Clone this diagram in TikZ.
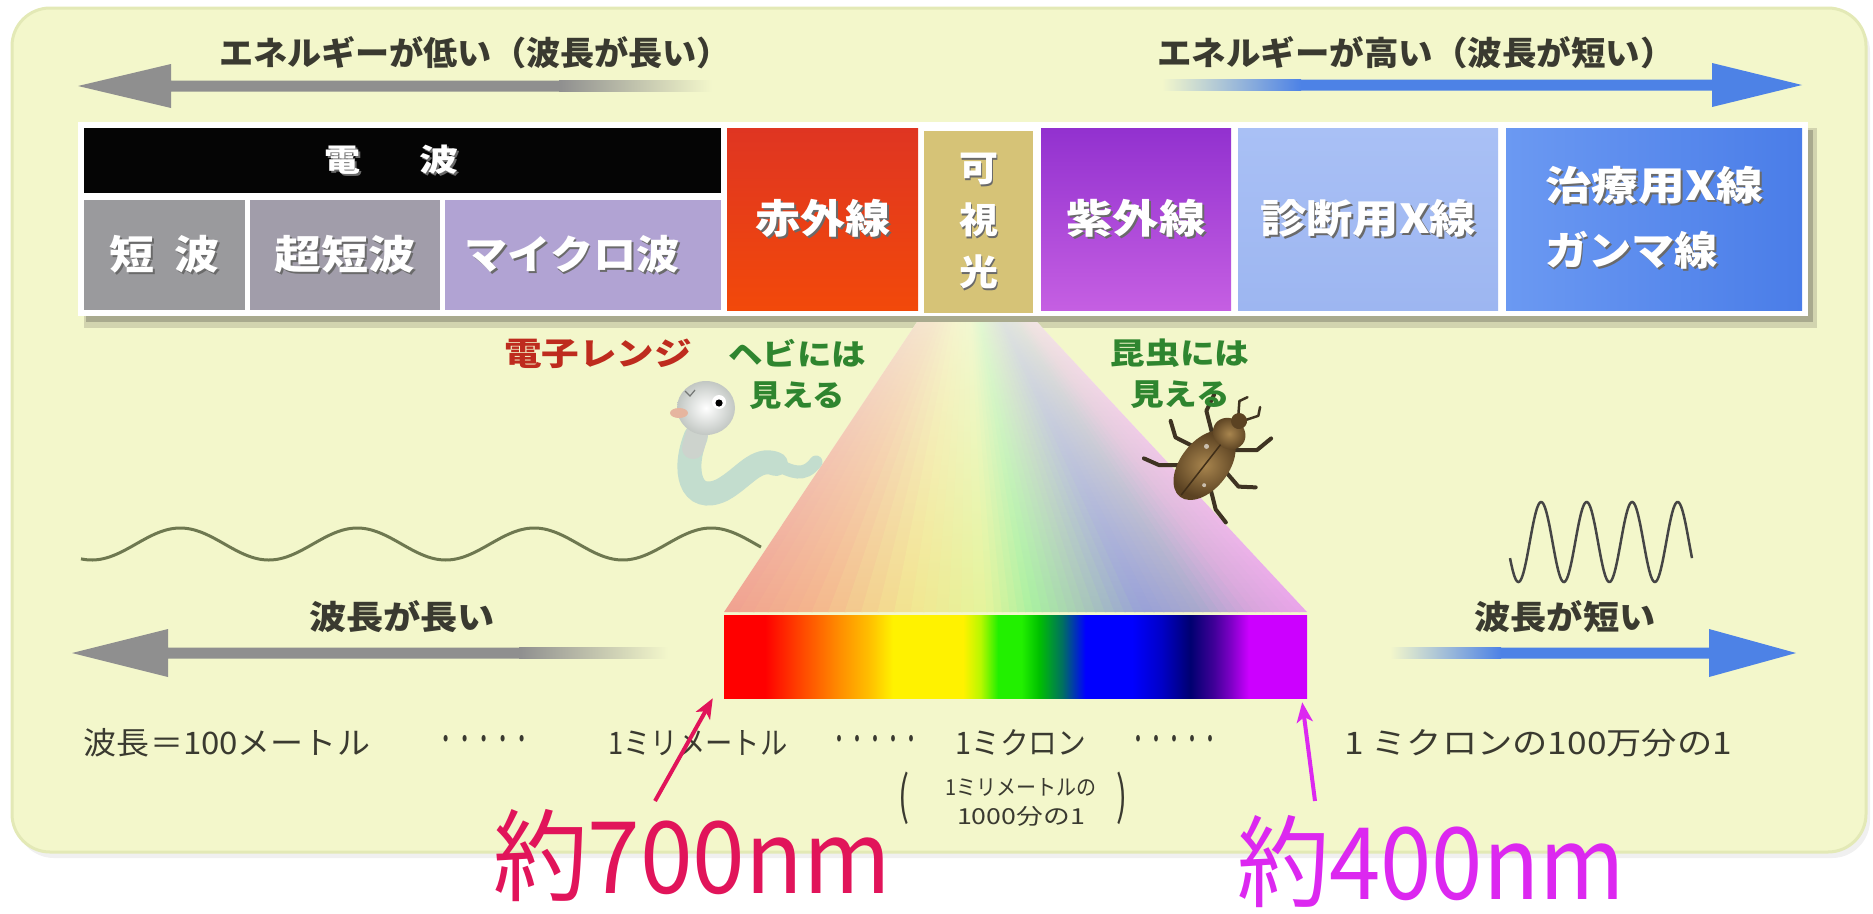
\documentclass[tikz,border=0pt]{standalone}
\usepackage{fontspec}
\usepackage{graphicx}
\usetikzlibrary{arrows.meta}
\newfontfamily\jp{Noto Sans CJK JP}
% set a text at a given width (pt), keeping its height
\newcommand\tw[2]{\resizebox{#1pt}{\height}{#2}}
% white band label with a soft grey drop shadow
\newcommand\shd[1]{\makebox[0pt][l]{\kern1.8pt\raisebox{-1.8pt}{\textcolor{labelshadow}{#1}}}#1}

\definecolor{panel}{HTML}{F3F7CB}
\definecolor{panelrim}{HTML}{E3E9B6}
\definecolor{ink}{HTML}{3A3A30}
\definecolor{labelshadow}{HTML}{6A6A6A}
\definecolor{arrowgray}{HTML}{8F8F8F}
\definecolor{arrowblue}{HTML}{4D82E6}
\definecolor{rowshadow}{HTML}{A9AA8E}
\definecolor{radiobar}{HTML}{050505}
\definecolor{swgray}{HTML}{9A9A9D}
\definecolor{vhfgray}{HTML}{A19DAA}
\definecolor{microlav}{HTML}{B1A3D3}
\definecolor{irtop}{HTML}{DF3522}
\definecolor{irbot}{HTML}{F2490A}
\definecolor{vis}{HTML}{D6C377}
\definecolor{uvtop}{HTML}{9231CF}
\definecolor{uvbot}{HTML}{C55FE2}
\definecolor{xdtop}{HTML}{A9C0F5}
\definecolor{xdbot}{HTML}{9DB6F1}
\definecolor{xtleft}{HTML}{6B99F2}
\definecolor{xtright}{HTML}{4A7DE8}
\definecolor{labred}{HTML}{BE2B1E}
\definecolor{labgreen}{HTML}{2F852F}
\definecolor{wavelong}{HTML}{6E7850}
\definecolor{waveshort}{HTML}{454545}
\definecolor{mark700}{HTML}{E1145A}
\definecolor{mark400}{HTML}{DC28F0}
\definecolor{snakebody}{HTML}{C3DDCE}
\definecolor{snakeneck}{HTML}{CDD3CD}
\definecolor{snakehead}{HTML}{C2C7C3}
\definecolor{snakemouth}{HTML}{E6B59F}
\definecolor{beetlelight}{HTML}{A8854E}
\definecolor{beetledark}{HTML}{5B4222}
\definecolor{beetleleg}{HTML}{3E3322}
% pale spectrum of the fan
\definecolor{fantop}{HTML}{F6F9E2}
\definecolor{f0}{HTML}{F0A090}
\definecolor{f1}{HTML}{F4B48C}
\definecolor{f2}{HTML}{F2E690}
\definecolor{f3}{HTML}{E4F49C}
\definecolor{f4}{HTML}{A8F0A0}
\definecolor{f5}{HTML}{A8C8B8}
\definecolor{f6}{HTML}{98A0D8}
\definecolor{f7}{HTML}{A8A8CC}
\definecolor{f8}{HTML}{D8A4DC}
\definecolor{f9}{HTML}{EAA4EA}
% spectrum bar
\definecolor{sp0}{HTML}{FF0000}
\definecolor{sp1}{HTML}{FF4400}
\definecolor{sp2}{HTML}{FF9000}
\definecolor{sp3}{HTML}{FFC000}
\definecolor{sp4}{HTML}{FFF200}
\definecolor{sp5}{HTML}{B8F800}
\definecolor{sp6}{HTML}{22F000}
\definecolor{sp7}{HTML}{00C000}
\definecolor{sp8}{HTML}{007060}
\definecolor{sp9}{HTML}{0000FF}
\definecolor{sp10}{HTML}{0000C8}
\definecolor{sp11}{HTML}{000070}
\definecolor{sp12}{HTML}{400098}
\definecolor{sp13}{HTML}{8000C8}
\definecolor{sp14}{HTML}{CC00FF}
\pgfdeclarehorizontalshading{spectrum}{100bp}{color(0bp)=(sp0); color(25bp)=(sp0);
  color(28.5bp)=(sp0); color(31.5bp)=(sp1); color(35bp)=(sp2); color(37.5bp)=(sp3);
  color(39.5bp)=(sp4); color(45.5bp)=(sp4); color(47bp)=(sp5); color(48.5bp)=(sp6);
  color(50.5bp)=(sp6); color(52bp)=(sp7); color(54bp)=(sp8); color(56bp)=(sp9);
  color(60bp)=(sp9); color(62.5bp)=(sp10); color(65bp)=(sp11); color(67bp)=(sp12);
  color(68.5bp)=(sp13); color(70bp)=(sp14); color(75bp)=(sp14); color(100bp)=(sp14)}

\begin{document}
\begin{tikzpicture}[x=1pt, y=-1pt,
  every node/.style={inner sep=0pt},
  headtext/.style={font=\jp\bfseries\fontsize{33}{36}\selectfont, text=ink},
  midlabel/.style={font=\jp\bfseries\fontsize{30}{41}\selectfont, align=center},
  scaletext/.style={font=\jp\fontsize{31}{34}\selectfont, text=ink},
  smalltext/.style={font=\jp\fontsize{22}{29}\selectfont, text=ink, align=center},
  bandbox/.style={inner sep=0pt, text=white, font=\jp\bfseries\fontsize{40}{65}\selectfont},
  nmlabel/.style={font=\jp\fontsize{100}{100}\selectfont},
  pointer/.style={line width=4pt, -{Stealth[length=20pt,width=16pt,inset=5pt]}},
]
\useasboundingbox (0,0) rectangle (1873,913);

% panel
\fill[black!6, rounded corners=38pt] (16,14) rectangle (1870,858);
\draw[panelrim, line width=3pt, fill=panel, rounded corners=38pt] (12,8) rectangle (1866,852);

% energy arrows
\node[headtext] (lowE) at (475,53) {\tw{512}{エネルギーが低い（波長が長い）}};
\node[headtext] (highE) at (1416,53) {\tw{517}{エネルギーが高い（波長が短い）}};
\fill[arrowgray] (78,86) -- (171,64) -- (171,80.5) -- (560,80.5) -- (560,91.5)
  -- (171,91.5) -- (171,108) -- cycle;
\shade[left color=arrowgray, right color=panel] (559,80.5) rectangle (712,91.5);
\fill[arrowblue] (1802,85) -- (1712,63) -- (1712,79.5) -- (1300,79.5) -- (1300,90.5)
  -- (1712,90.5) -- (1712,107) -- cycle;
\shade[left color=panel, right color=arrowblue] (1162,79.5) rectangle (1301,90.5);

% band row
\fill[rowshadow!45!panel] (84,128) rectangle (1817,328);
\fill[rowshadow] (86,130) rectangle (1813,322);
\fill[white] (78,122) rectangle (1808,316);
\node[bandbox, fill=radiobar, minimum width=637pt, minimum height=65pt,
  font=\jp\bfseries\fontsize{31}{34}\selectfont] (radio) at (402.5,160.5)
  {\hspace*{-22pt}\tw{36}{\shd{電}}\hspace{59pt}\tw{39}{\shd{波}}};
\node[bandbox, fill=swgray, minimum width=161pt, minimum height=110pt] (sw) at (164.5,255)
  {\tw{110}{\shd{短\hspace{0.45em}波}}};
\node[bandbox, fill=vhfgray, minimum width=190pt, minimum height=110pt] (vhf) at (345,255)
  {\tw{141}{\shd{超短波}}};
\node[bandbox, fill=microlav, minimum width=276pt, minimum height=110pt] (micro) at (583,255)
  {\hspace*{-22pt}\tw{215}{\shd{マイクロ波}}};
\node[bandbox, top color=irtop, bottom color=irbot, minimum width=191pt, minimum height=182pt]
  (ir) at (822.5,219) {\tw{135}{\shd{赤外線}}};
\node[bandbox, fill=vis, minimum width=109pt, minimum height=182pt, align=center,
  font=\jp\bfseries\fontsize{36}{52}\selectfont] (visible) at (978.5,222)
  {\tw{39}{\shd{可}}\\\tw{39}{\shd{視}}\\\tw{39}{\shd{光}}};
\node[bandbox, top color=uvtop, bottom color=uvbot, minimum width=190pt, minimum height=182pt]
  (uv) at (1136,219) {\tw{139}{\shd{紫外線}}};
\node[bandbox, top color=xdtop, bottom color=xdbot, minimum width=260pt, minimum height=182pt]
  (xdiag) at (1368,219) {\tw{216}{\shd{診断用X線}}};
\node[bandbox, left color=xtleft, right color=xtright, minimum width=296pt, minimum height=182pt,
  align=left] (xther) at (1654,219)
  {\tw{218}{\shd{治療用X線}}\\\tw{173}{\shd{ガンマ線}}};

% fan of visible light below the band
\begin{scope}
  \clip (724,612) -- (1307,612) -- (1037,322) -- (917,322) -- cycle;
  \fill[fantop] (700,300) rectangle (1330,615);
  \foreach \ua/\ub/\ca/\cb in {0/0.15/f0/f1, 0.15/0.32/f1/f2, 0.32/0.45/f2/f3,
      0.45/0.53/f3/f4, 0.53/0.62/f4/f5, 0.62/0.72/f5/f6, 0.72/0.82/f6/f7,
      0.82/0.91/f7/f8, 0.91/1/f8/f9}{
    \foreach \j in {0,...,5}{
      \pgfmathsetmacro\uL{\ua+(\ub-\ua)*\j/6}
      \pgfmathsetmacro\uR{\ua+(\ub-\ua)*(\j+1)/6}
      \pgfmathtruncatemacro\pp{100-100*(\j+0.5)/6}
      \colorlet{fanc}{\ca!\pp!\cb}
      \colorlet{fanctop}{fanc!25!fantop}
      \colorlet{fancmid}{fanc!62!fantop}
      \shade[top color=fanctop, bottom color=fanc, middle color=fancmid]
        ({724+583*\uL},612) -- ({724+583*\uR+1.5},612) -- ({917+120*\uR+0.4},322)
        -- ({917+120*\uL},322) -- cycle;
    }
  }
\end{scope}

% spectrum bar
\node[shade, shading=spectrum, minimum width=583pt, minimum height=83pt] (spec) at (1015.5,656.5) {};

% waves
\draw[wavelong, line width=3pt] plot[domain=81:761, samples=240] (\x, {544-16*sin((\x-136)/177*360)});
\draw[waveshort, line width=2.5pt] plot[domain=1510:1692, samples=220] (\x, {542+40*sin((\x-1507)/45.5*360)});

% wavelength arrows
\node[headtext] (longL) at (402,617) {\tw{186}{波長が長い}};
\node[headtext] (shortL) at (1565,617) {\tw{181}{波長が短い}};
\fill[arrowgray] (72,653) -- (168,629) -- (168,647.5) -- (520,647.5) -- (520,658.5)
  -- (168,658.5) -- (168,677) -- cycle;
\shade[left color=arrowgray, right color=panel] (519,647.5) rectangle (668,658.5);
\fill[arrowblue] (1796,653) -- (1709,629) -- (1709,647.5) -- (1500,647.5) -- (1500,658.5)
  -- (1709,658.5) -- (1709,677) -- cycle;
\shade[left color=panel, right color=arrowblue] (1390,647.5) rectangle (1501,658.5);

% snake
\draw[snakebody, line width=24pt, line cap=round]
  (696,436) .. controls (682,470) and (690,505) .. (722,490)
  .. controls (744,478) and (756,456) .. (776,464);
\draw[snakebody, line width=13pt, line cap=round]
  (776,464) .. controls (792,472) and (804,478) .. (816,462);
\draw[snakeneck, line width=22pt, line cap=round] (698,430) -- (693,448);
\shade[inner color=white, outer color=snakehead] (706,408) ellipse [x radius=29pt, y radius=27pt];
\fill[snakemouth] (679,413) ellipse [x radius=9pt, y radius=5pt];
\draw[snakehead!60!black, line width=1.2pt] (685,391) -- (690,396) -- (695,390);
\fill[white] (719,402) circle (7pt);
\fill[black] (719,403) circle (3.6pt);

% beetle
\begin{scope}[shift={(1207,462)}, rotate=52]
  \foreach \s in {1,-1}{
    \draw[beetleleg, line width=4pt, line cap=round, line join=round]
      (26,{14*\s}) -- (40,{32*\s}) -- (58,{36*\s});
    \draw[beetleleg, line width=4pt, line cap=round, line join=round]
      (4,{20*\s}) -- (0,{40*\s}) -- (10,{54*\s});
    \draw[beetleleg, line width=4pt, line cap=round, line join=round]
      (-18,{18*\s}) -- (-32,{36*\s}) -- (-36,{52*\s});
    \draw[beetleleg, line width=2.5pt, line cap=round, line join=round]
      (56,{4*\s}) -- (68,{12*\s}) -- (76,{8*\s});
  }
  \shade[inner color=beetlelight, outer color=beetledark] (-4,0) ellipse [x radius=40pt, y radius=24pt];
  \shade[inner color=beetlelight, outer color=beetledark] (36,0) ellipse [x radius=15pt, y radius=17pt];
  \fill[beetledark] (52,0) circle (8pt);
  \draw[beetledark!70!black, line width=1.5pt] (-42,0) -- (22,0);
  \fill[white, opacity=.6] (12,-10) circle (2.5pt);
  \fill[white, opacity=.6] (-20,12) circle (2pt);
\end{scope}

% labels around the fan
\node[midlabel, text=labred, font=\jp\bfseries\fontsize{32}{36}\selectfont] (oven) at (598,354) {\tw{188}{電子レンジ}};
\node[midlabel, text=labgreen] (snakesees) at (797,374) {\tw{138}{ヘビには}\\\tw{96}{見える}};
\node[midlabel, text=labgreen] (bugsees) at (1180,374) {\tw{139}{昆虫には}\\\tw{100}{見える}};

% wavelength scale
\node[scaletext] (s100m) at (227,743) {\tw{286}{波長＝100メートル}};
\node[scaletext] (dots1) at (484,743) {\tw{96}{・・・・・}};
\node[scaletext] (s1mm) at (698,743) {\tw{179}{1ミリメートル}};
\node[scaletext] (dots2) at (875,743) {\tw{90}{・・・・・}};
\node[scaletext] (s1um) at (1021,743) {\tw{131}{1ミクロン}};
\node[scaletext] (dots3) at (1174,743) {\tw{90}{・・・・・}};
\node[scaletext] (s1pm) at (1538,743) {\tw{388}{1 ミクロンの100万分の1}};
\node[smalltext] (umnote) at (1021,802) {\tw{151}{1ミリメートルの}\\\tw{128}{1000分の1}};
\node[scaletext, font=\jp\fontsize{52}{52}\selectfont] (pl) at (904,798) {\tw{11}{(}};
\node[scaletext, font=\jp\fontsize{52}{52}\selectfont] (pr) at (1122,798) {\tw{11}{)}};

% visible range limits
\node[nmlabel, text=mark700, anchor=base] (nm700) at (692,893) {\tw{398}{約700nm}};
\node[nmlabel, text=mark400, anchor=base] (nm400) at (1431,899) {\tw{388}{約400nm}};
\coordinate (tail700) at (655,801);
\coordinate (tail400) at (1315,801);
\draw[pointer, mark700] (tail700) -- ([xshift=-11pt]spec.south west);
\draw[pointer, mark400] (tail400) -- ([xshift=-5pt, yshift=-4pt]spec.south east);
\end{tikzpicture}
\end{document}
